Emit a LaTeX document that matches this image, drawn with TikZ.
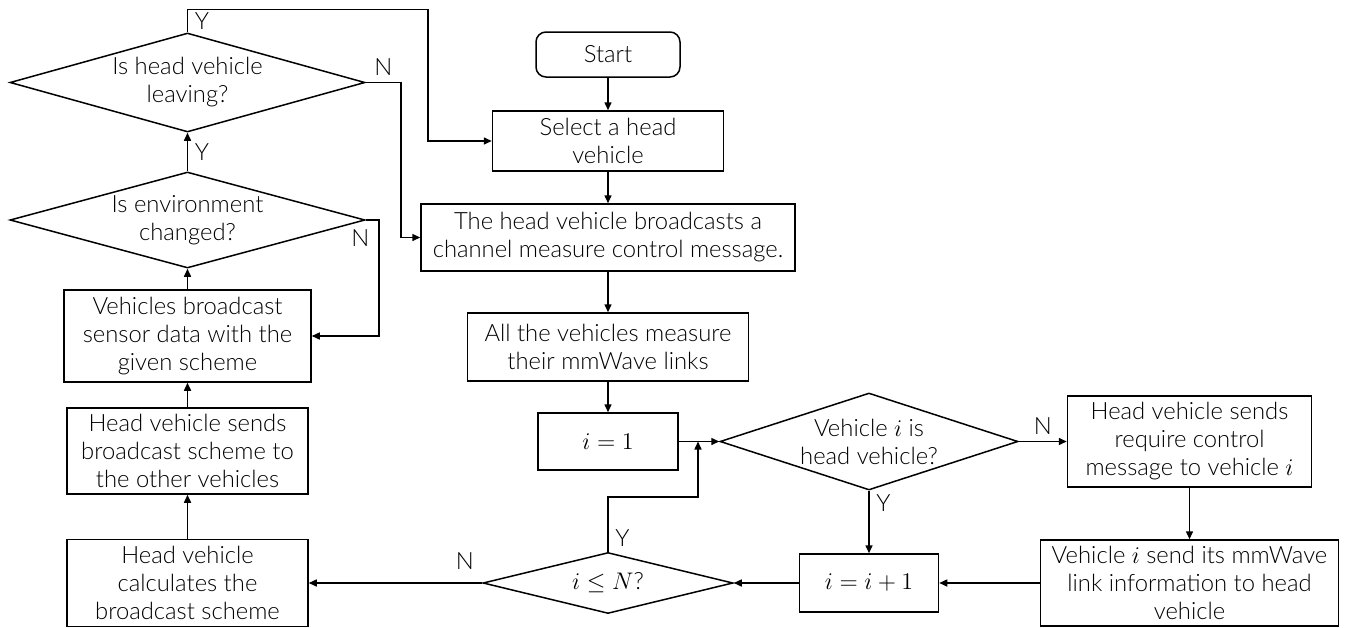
\documentclass[tikz,border=0pt]{standalone}
\usepackage{fontspec}
\setmainfont{Lato Light}
\usetikzlibrary{shapes.geometric,% diamond nodes
arrows.meta}
\tikzset{every node/.style={font=\fontsize{11.9}{14}\selectfont},
  box/.style={draw,rectangle,align=center,inner sep=0pt},
  test/.style={draw,diamond,inner sep=0pt},
  arr/.style={-{Triangle[length=4pt,width=3.5pt]}}}

\begin{document}
\begin{tikzpicture}[x=0.5pt,y=-0.5pt,line width=0.75pt]
\useasboundingbox (0,0) rectangle (1349,627);
% middle column
\node[box,rounded corners=5pt,minimum width=72pt,minimum height=22.5pt] (start) at (608,54.5) {Start};
\node[box,minimum width=115.5pt,minimum height=30pt] (select) at (608,141) {Select a head\\vehicle};
\node[box,minimum width=187pt,minimum height=33.5pt] (bcast) at (608,237.5) {The head vehicle broadcasts a\\channel measure control message.};
\node[box,minimum width=140.5pt,minimum height=34pt] (measure) at (608,347) {All the vehicles measure\\their mmWave links};
\node[box,minimum width=70pt,minimum height=28.5pt] (one) at (608,441.5) {$i=1$};
\node[test,minimum width=125pt,minimum height=30.5pt,label={center:{$i\le N$?}}] (leq) at (608,583) {};
\coordinate (loop) at (698,441.5);
% right part
\node[test,minimum width=149pt,minimum height=48.5pt,label={[align=center]center:{Vehicle $i$ is\\head vehicle?}}] (ishead) at (869,441.5) {};
\node[box,minimum width=122pt,minimum height=45.5pt] (require) at (1189.5,441.5) {Head vehicle sends\\require control\\message to vehicle $i$};
\node[box,minimum width=149pt,minimum height=43pt] (sendinfo) at (1189.5,583) {Vehicle $i$ send its mmWave\\link information to head\\vehicle};
\node[box,minimum width=69.5pt,minimum height=29pt] (incr) at (869,583) {$i=i+1$};
% left column
\node[box,minimum width=120.5pt,minimum height=43.5pt] (calc) at (187.5,583) {Head vehicle\\calculates the\\broadcast scheme};
\node[box,minimum width=120.5pt,minimum height=43pt] (scheme) at (187.5,451) {Head vehicle sends\\broadcast scheme to\\the other vehicles};
\node[box,minimum width=123.5pt,minimum height=46pt] (sensor) at (187.5,336) {Vehicles broadcast\\sensor data with the\\given scheme};
\node[test,minimum width=177.5pt,minimum height=48pt,label={[align=center]center:{Is environment\\changed?}}] (envchg) at (187.5,220) {};
\node[test,minimum width=177.5pt,minimum height=49.5pt,label={[align=center]center:{Is head vehicle\\leaving?}}] (leaving) at (187.5,82.5) {};

\begin{scope}[arr]
\draw (start) -- (select);
\draw (select) -- (bcast);
\draw (bcast) -- (measure);
\draw (measure) -- (one);
\draw (one) -- (ishead);
\draw (ishead) -- node[above] (nhead) {N} (require);
\draw (ishead) -- node[pos=0.2,right] (yhead) {Y} (incr);
\draw (require) -- (sendinfo);
\draw (sendinfo) -- (incr);
\draw (incr) -- (leq);
\draw (leq) -- node[pos=0.1,above=3pt] (nleq) {N} (calc);
\draw (leq.north) -- node[pos=0.25,right] (yleq) {Y} ++(0,-55) -| (loop);
\draw (calc) -- (scheme);
\draw (scheme) -- (sensor);
\draw (sensor) -- (envchg);
\draw (envchg.east) -- ++(13,0) node[below left=1pt] (nenv) {N} |- (sensor.east);
\draw (envchg) -- node[right] (yenv) {Y} (leaving);
\draw (leaving.east) -- node[above] (nleave) {N} ++(35,0) |- (bcast.west);
\draw (leaving.north) -- node[right] (yleave) {Y} ++(0,-23) -- ++(240.5,0) |- (select.west);
\end{scope}
\end{tikzpicture}
\end{document}
